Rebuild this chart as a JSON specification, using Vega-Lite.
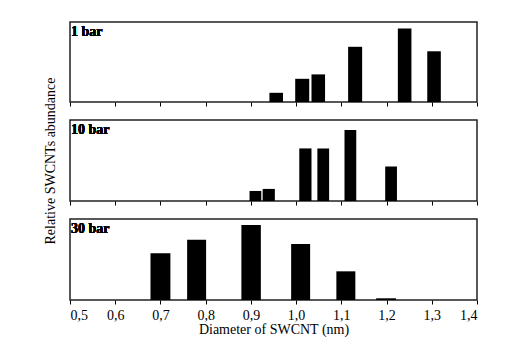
{
  "$schema": "https://vega.github.io/schema/vega-lite/v6.json",
  "background": "white",
  "padding": {"left": 42, "top": 21, "right": 5, "bottom": 5},
  "spacing": 18,
  "bounds": "flush",
  "config": {
    "view": {"stroke": "#222222", "strokeWidth": 1.5},
    "font": "Liberation Serif",
    "axis": {"labelFont": "Liberation Serif", "titleFont": "Liberation Serif", "labelFontSize": 14, "titleFontSize": 14, "titleFontWeight": "normal", "labelColor": "black", "titleColor": "black", "tickColor": "black", "domainColor": "black", "grid": false},
    "text": {"font": "Liberation Serif", "fontSize": 14, "fontWeight": "bold", "color": "black", "align": "left", "baseline": "top", "dx": 1, "dy": 3}
  },
  "data": {"values": [
    {"panel": "1 bar", "x_start": 0.941, "x_end": 0.971, "value": 0.115},
    {"panel": "1 bar", "x_start": 0.998, "x_end": 1.029, "value": 0.29},
    {"panel": "1 bar", "x_start": 1.034, "x_end": 1.064, "value": 0.345},
    {"panel": "1 bar", "x_start": 1.115, "x_end": 1.146, "value": 0.69},
    {"panel": "1 bar", "x_start": 1.225, "x_end": 1.255, "value": 0.92},
    {"panel": "1 bar", "x_start": 1.290, "x_end": 1.320, "value": 0.634},
    {"panel": "10 bar", "x_start": 0.897, "x_end": 0.923, "value": 0.124},
    {"panel": "10 bar", "x_start": 0.926, "x_end": 0.953, "value": 0.149},
    {"panel": "10 bar", "x_start": 1.007, "x_end": 1.034, "value": 0.649},
    {"panel": "10 bar", "x_start": 1.047, "x_end": 1.073, "value": 0.649},
    {"panel": "10 bar", "x_start": 1.107, "x_end": 1.133, "value": 0.876},
    {"panel": "10 bar", "x_start": 1.197, "x_end": 1.223, "value": 0.426},
    {"panel": "30 bar", "x_start": 0.678, "x_end": 0.722, "value": 0.576},
    {"panel": "30 bar", "x_start": 0.759, "x_end": 0.801, "value": 0.745},
    {"panel": "30 bar", "x_start": 0.879, "x_end": 0.922, "value": 0.926},
    {"panel": "30 bar", "x_start": 0.989, "x_end": 1.031, "value": 0.691},
    {"panel": "30 bar", "x_start": 1.089, "x_end": 1.131, "value": 0.354},
    {"panel": "30 bar", "x_start": 1.177, "x_end": 1.221, "value": 0.021}
  ]},
  "vconcat": [
    {
      "width": 407, "height": 80,
      "transform": [{"filter": "datum.panel === '1 bar'"}],
      "layer": [
        {
          "mark": {"type": "bar", "color": "black"},
          "encoding": {
            "x": {"field": "x_start", "type": "quantitative", "scale": {"domain": [0.5, 1.4], "nice": false, "zero": false},
                  "axis": {"values": [0.5,0.55,0.6,0.65,0.7,0.75,0.8,0.85,0.9,0.95,1.0,1.05,1.1,1.15,1.2,1.25,1.3,1.35,1.4], "labels": false, "title": null, "domain": false,
                           "tickSize": {"condition": {"test": "abs(datum.value*10 - round(datum.value*10)) < 0.01", "value": 4}, "value": 2.5}, "tickWidth": 1}},
            "x2": {"field": "x_end"},
            "y": {"field": "value", "type": "quantitative", "scale": {"domain": [0, 1], "nice": false}, "axis": null},
            "y2": {"datum": 0}
          }
        },
        {
          "mark": {"type": "text"},
          "encoding": {
            "x": {"datum": 0.5},
            "y": {"datum": 1},
            "text": {"value": "1 bar"}
          }
        }
      ]
    },
    {
      "width": 407, "height": 81,
      "transform": [{"filter": "datum.panel === '10 bar'"}],
      "layer": [
        {
          "mark": {"type": "bar", "color": "black"},
          "encoding": {
            "x": {"field": "x_start", "type": "quantitative", "scale": {"domain": [0.5, 1.4], "nice": false, "zero": false},
                  "axis": {"values": [0.5,0.55,0.6,0.65,0.7,0.75,0.8,0.85,0.9,0.95,1.0,1.05,1.1,1.15,1.2,1.25,1.3,1.35,1.4], "labels": false, "title": null, "domain": false,
                           "tickSize": {"condition": {"test": "abs(datum.value*10 - round(datum.value*10)) < 0.01", "value": 4}, "value": 2.5}, "tickWidth": 1}},
            "x2": {"field": "x_end"},
            "y": {"field": "value", "type": "quantitative", "scale": {"domain": [0, 1], "nice": false},
                  "axis": {"title": "Relative SWCNTs abundance", "labels": false, "ticks": false, "domain": false, "titlePadding": 13}},
            "y2": {"datum": 0}
          }
        },
        {
          "mark": {"type": "text"},
          "encoding": {
            "x": {"datum": 0.5},
            "y": {"datum": 1},
            "text": {"value": "10 bar"}
          }
        }
      ]
    },
    {
      "width": 407, "height": 81,
      "transform": [{"filter": "datum.panel === '30 bar'"}],
      "layer": [
        {
          "mark": {"type": "bar", "color": "black"},
          "encoding": {
            "x": {"field": "x_start", "type": "quantitative", "scale": {"domain": [0.5, 1.4], "nice": false, "zero": false},
                  "axis": {"values": [0.5,0.55,0.6,0.65,0.7,0.75,0.8,0.85,0.9,0.95,1.0,1.05,1.1,1.15,1.2,1.25,1.3,1.35,1.4], "title": "Diameter of SWCNT (nm)", "domain": false,
                           "labelExpr": "abs(datum.value*10 - round(datum.value*10)) < 0.01 ? replace(format(datum.value, '.1f'), '.', ',') : ''",
                           "labelPadding": 4, "titlePadding": 0,
                           "tickSize": {"condition": {"test": "abs(datum.value*10 - round(datum.value*10)) < 0.01", "value": 4}, "value": 2.5}, "tickWidth": 1}},
            "x2": {"field": "x_end"},
            "y": {"field": "value", "type": "quantitative", "scale": {"domain": [0, 1], "nice": false}, "axis": null},
            "y2": {"datum": 0}
          }
        },
        {
          "mark": {"type": "text"},
          "encoding": {
            "x": {"datum": 0.5},
            "y": {"datum": 1},
            "text": {"value": "30 bar"}
          }
        }
      ]
    }
  ]
}
